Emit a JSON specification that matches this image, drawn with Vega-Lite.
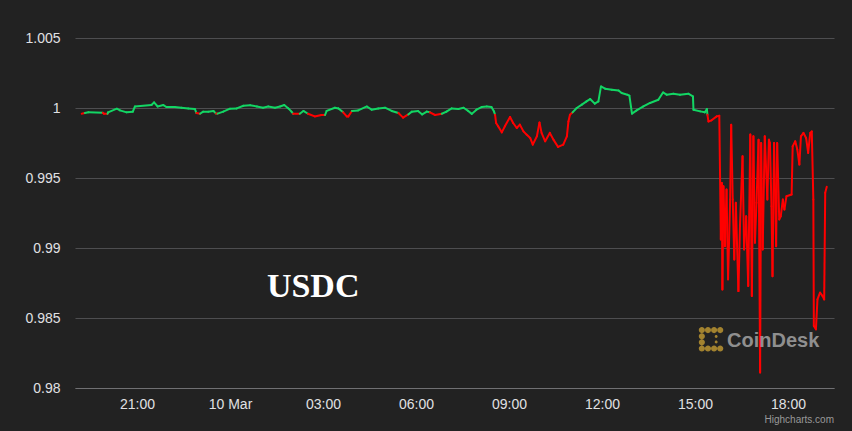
{
  "$schema": "https://vega.github.io/schema/vega-lite/v6.json",
  "autosize": {"type": "none"},
  "padding": {"left": 75, "top": 38, "right": 18, "bottom": 43},
  "width": 759,
  "height": 350,
  "background": "#222222",
  "config": {
    "view": {"stroke": null},
    "font": "Liberation Sans"
  },
  "datasets": {
    "usdc": [
      {"t": "2023-03-09T19:13:00Z", "v": 0.99959},
      {"t": "2023-03-09T19:19:00Z", "v": 0.99964},
      {"t": "2023-03-09T19:26:00Z", "v": 0.99969},
      {"t": "2023-03-09T19:54:00Z", "v": 0.99966},
      {"t": "2023-03-09T19:56:00Z", "v": 0.99959},
      {"t": "2023-03-09T20:03:00Z", "v": 0.99959},
      {"t": "2023-03-09T20:04:00Z", "v": 0.99969},
      {"t": "2023-03-09T20:21:00Z", "v": 0.99995},
      {"t": "2023-03-09T20:27:00Z", "v": 0.99983},
      {"t": "2023-03-09T20:40:00Z", "v": 0.99969},
      {"t": "2023-03-09T20:52:00Z", "v": 0.99974},
      {"t": "2023-03-09T20:56:00Z", "v": 1.00011},
      {"t": "2023-03-09T21:28:00Z", "v": 1.00021},
      {"t": "2023-03-09T21:33:00Z", "v": 1.0004},
      {"t": "2023-03-09T21:40:00Z", "v": 1.00011},
      {"t": "2023-03-09T21:51:00Z", "v": 1.00021},
      {"t": "2023-03-09T21:57:00Z", "v": 1.00007},
      {"t": "2023-03-09T22:13:00Z", "v": 1.00007},
      {"t": "2023-03-09T22:26:00Z", "v": 1.00002},
      {"t": "2023-03-09T22:39:00Z", "v": 0.99997},
      {"t": "2023-03-09T22:52:00Z", "v": 0.99993},
      {"t": "2023-03-09T22:55:00Z", "v": 0.99964},
      {"t": "2023-03-09T23:02:00Z", "v": 0.99959},
      {"t": "2023-03-09T23:08:00Z", "v": 0.99974},
      {"t": "2023-03-09T23:18:00Z", "v": 0.99974},
      {"t": "2023-03-09T23:28:00Z", "v": 0.99979},
      {"t": "2023-03-09T23:33:00Z", "v": 0.9996},
      {"t": "2023-03-09T23:36:00Z", "v": 0.9996},
      {"t": "2023-03-09T23:47:00Z", "v": 0.99974},
      {"t": "2023-03-10T00:00:00Z", "v": 0.99995},
      {"t": "2023-03-10T00:13:00Z", "v": 0.99997},
      {"t": "2023-03-10T00:26:00Z", "v": 1.00016},
      {"t": "2023-03-10T00:39:00Z", "v": 1.00019},
      {"t": "2023-03-10T00:52:00Z", "v": 1.00011},
      {"t": "2023-03-10T01:04:00Z", "v": 1.00002},
      {"t": "2023-03-10T01:14:00Z", "v": 1.00011},
      {"t": "2023-03-10T01:27:00Z", "v": 1.00002},
      {"t": "2023-03-10T01:37:00Z", "v": 1.00011},
      {"t": "2023-03-10T01:45:00Z", "v": 1.00021},
      {"t": "2023-03-10T01:53:00Z", "v": 0.99997},
      {"t": "2023-03-10T01:59:00Z", "v": 0.99974},
      {"t": "2023-03-10T02:02:00Z", "v": 0.99959},
      {"t": "2023-03-10T02:15:00Z", "v": 0.99959},
      {"t": "2023-03-10T02:22:00Z", "v": 0.99979},
      {"t": "2023-03-10T02:31:00Z", "v": 0.99959},
      {"t": "2023-03-10T02:44:00Z", "v": 0.9994},
      {"t": "2023-03-10T02:57:00Z", "v": 0.9995},
      {"t": "2023-03-10T03:04:00Z", "v": 0.9995},
      {"t": "2023-03-10T03:07:00Z", "v": 0.99979},
      {"t": "2023-03-10T03:23:00Z", "v": 1.00002},
      {"t": "2023-03-10T03:30:00Z", "v": 0.99997},
      {"t": "2023-03-10T03:39:00Z", "v": 0.99969},
      {"t": "2023-03-10T03:46:00Z", "v": 0.9994},
      {"t": "2023-03-10T03:49:00Z", "v": 0.9994},
      {"t": "2023-03-10T03:56:00Z", "v": 0.99979},
      {"t": "2023-03-10T04:08:00Z", "v": 0.99983},
      {"t": "2023-03-10T04:25:00Z", "v": 1.00011},
      {"t": "2023-03-10T04:34:00Z", "v": 0.99988},
      {"t": "2023-03-10T04:47:00Z", "v": 0.99997},
      {"t": "2023-03-10T05:00:00Z", "v": 1.00002},
      {"t": "2023-03-10T05:13:00Z", "v": 0.99979},
      {"t": "2023-03-10T05:26:00Z", "v": 0.99964},
      {"t": "2023-03-10T05:35:00Z", "v": 0.99931},
      {"t": "2023-03-10T05:45:00Z", "v": 0.99954},
      {"t": "2023-03-10T05:52:00Z", "v": 0.99974},
      {"t": "2023-03-10T06:04:00Z", "v": 0.99979},
      {"t": "2023-03-10T06:12:00Z", "v": 0.99954},
      {"t": "2023-03-10T06:21:00Z", "v": 0.99974},
      {"t": "2023-03-10T06:27:00Z", "v": 0.99969},
      {"t": "2023-03-10T06:37:00Z", "v": 0.9995},
      {"t": "2023-03-10T06:50:00Z", "v": 0.99959},
      {"t": "2023-03-10T06:59:00Z", "v": 0.99974},
      {"t": "2023-03-10T07:09:00Z", "v": 0.99997},
      {"t": "2023-03-10T07:22:00Z", "v": 0.99993},
      {"t": "2023-03-10T07:32:00Z", "v": 1.00002},
      {"t": "2023-03-10T07:41:00Z", "v": 0.99979},
      {"t": "2023-03-10T07:48:00Z", "v": 0.99958},
      {"t": "2023-03-10T07:57:00Z", "v": 0.99988},
      {"t": "2023-03-10T08:07:00Z", "v": 1.00007},
      {"t": "2023-03-10T08:17:00Z", "v": 1.00011},
      {"t": "2023-03-10T08:26:00Z", "v": 1.00007},
      {"t": "2023-03-10T08:31:00Z", "v": 0.99975},
      {"t": "2023-03-10T08:33:00Z", "v": 0.99952},
      {"t": "2023-03-10T08:35:00Z", "v": 0.99893},
      {"t": "2023-03-10T08:39:00Z", "v": 0.99869},
      {"t": "2023-03-10T08:46:00Z", "v": 0.99826},
      {"t": "2023-03-10T08:52:00Z", "v": 0.99869},
      {"t": "2023-03-10T09:02:00Z", "v": 0.99936},
      {"t": "2023-03-10T09:08:00Z", "v": 0.99893},
      {"t": "2023-03-10T09:15:00Z", "v": 0.99857},
      {"t": "2023-03-10T09:21:00Z", "v": 0.99881},
      {"t": "2023-03-10T09:28:00Z", "v": 0.99833},
      {"t": "2023-03-10T09:34:00Z", "v": 0.9981},
      {"t": "2023-03-10T09:41:00Z", "v": 0.99786},
      {"t": "2023-03-10T09:46:00Z", "v": 0.99738},
      {"t": "2023-03-10T09:54:00Z", "v": 0.99798},
      {"t": "2023-03-10T09:59:00Z", "v": 0.99897},
      {"t": "2023-03-10T10:03:00Z", "v": 0.99822},
      {"t": "2023-03-10T10:10:00Z", "v": 0.99762},
      {"t": "2023-03-10T10:19:00Z", "v": 0.99822},
      {"t": "2023-03-10T10:26:00Z", "v": 0.99774},
      {"t": "2023-03-10T10:35:00Z", "v": 0.99722},
      {"t": "2023-03-10T10:45:00Z", "v": 0.99738},
      {"t": "2023-03-10T10:52:00Z", "v": 0.99798},
      {"t": "2023-03-10T10:55:00Z", "v": 0.99904},
      {"t": "2023-03-10T10:58:00Z", "v": 0.99952},
      {"t": "2023-03-10T11:03:00Z", "v": 0.99969},
      {"t": "2023-03-10T11:11:00Z", "v": 1.0},
      {"t": "2023-03-10T11:21:00Z", "v": 1.00024},
      {"t": "2023-03-10T11:30:00Z", "v": 1.00047},
      {"t": "2023-03-10T11:37:00Z", "v": 1.00064},
      {"t": "2023-03-10T11:46:00Z", "v": 1.00031},
      {"t": "2023-03-10T11:53:00Z", "v": 1.00047},
      {"t": "2023-03-10T11:58:00Z", "v": 1.00154},
      {"t": "2023-03-10T12:06:00Z", "v": 1.00138},
      {"t": "2023-03-10T12:19:00Z", "v": 1.0013},
      {"t": "2023-03-10T12:32:00Z", "v": 1.00125},
      {"t": "2023-03-10T12:38:00Z", "v": 1.00107},
      {"t": "2023-03-10T12:49:00Z", "v": 1.00095},
      {"t": "2023-03-10T12:53:00Z", "v": 1.00088},
      {"t": "2023-03-10T12:58:00Z", "v": 0.9996},
      {"t": "2023-03-10T13:07:00Z", "v": 0.99983},
      {"t": "2023-03-10T13:20:00Z", "v": 1.00011},
      {"t": "2023-03-10T13:33:00Z", "v": 1.00036},
      {"t": "2023-03-10T13:49:00Z", "v": 1.00059},
      {"t": "2023-03-10T13:58:00Z", "v": 1.00111},
      {"t": "2023-03-10T14:05:00Z", "v": 1.00095},
      {"t": "2023-03-10T14:18:00Z", "v": 1.00102},
      {"t": "2023-03-10T14:31:00Z", "v": 1.00095},
      {"t": "2023-03-10T14:47:00Z", "v": 1.00102},
      {"t": "2023-03-10T14:56:00Z", "v": 1.00083},
      {"t": "2023-03-10T14:57:00Z", "v": 0.99988},
      {"t": "2023-03-10T15:10:00Z", "v": 0.99976},
      {"t": "2023-03-10T15:19:00Z", "v": 0.99969},
      {"t": "2023-03-10T15:23:00Z", "v": 0.99993},
      {"t": "2023-03-10T15:24:00Z", "v": 0.99952},
      {"t": "2023-03-10T15:26:00Z", "v": 0.99904},
      {"t": "2023-03-10T15:32:00Z", "v": 0.99912},
      {"t": "2023-03-10T15:42:00Z", "v": 0.9994},
      {"t": "2023-03-10T15:47:00Z", "v": 0.99945},
      {"t": "2023-03-10T15:50:00Z", "v": 0.99061},
      {"t": "2023-03-10T15:52:00Z", "v": 0.99465},
      {"t": "2023-03-10T15:53:00Z", "v": 0.98704},
      {"t": "2023-03-10T15:55:00Z", "v": 0.99441},
      {"t": "2023-03-10T15:58:00Z", "v": 0.99013},
      {"t": "2023-03-10T16:01:00Z", "v": 0.99417},
      {"t": "2023-03-10T16:04:00Z", "v": 0.98776},
      {"t": "2023-03-10T16:08:00Z", "v": 0.99346},
      {"t": "2023-03-10T16:10:00Z", "v": 0.99881},
      {"t": "2023-03-10T16:13:00Z", "v": 0.99346},
      {"t": "2023-03-10T16:16:00Z", "v": 0.98918},
      {"t": "2023-03-10T16:19:00Z", "v": 0.99323},
      {"t": "2023-03-10T16:24:00Z", "v": 0.98692},
      {"t": "2023-03-10T16:27:00Z", "v": 0.99156},
      {"t": "2023-03-10T16:32:00Z", "v": 0.99655},
      {"t": "2023-03-10T16:35:00Z", "v": 0.9899},
      {"t": "2023-03-10T16:39:00Z", "v": 0.99227},
      {"t": "2023-03-10T16:43:00Z", "v": 0.98728},
      {"t": "2023-03-10T16:47:00Z", "v": 0.9981},
      {"t": "2023-03-10T16:50:00Z", "v": 0.98657},
      {"t": "2023-03-10T16:53:00Z", "v": 0.99798},
      {"t": "2023-03-10T16:56:00Z", "v": 0.99037},
      {"t": "2023-03-10T16:59:00Z", "v": 0.99323},
      {"t": "2023-03-10T17:03:00Z", "v": 0.99774},
      {"t": "2023-03-10T17:06:00Z", "v": 0.98111},
      {"t": "2023-03-10T17:08:00Z", "v": 0.9975},
      {"t": "2023-03-10T17:11:00Z", "v": 0.9899},
      {"t": "2023-03-10T17:15:00Z", "v": 0.99798},
      {"t": "2023-03-10T17:20:00Z", "v": 0.99346},
      {"t": "2023-03-10T17:23:00Z", "v": 0.99774},
      {"t": "2023-03-10T17:25:00Z", "v": 0.9975},
      {"t": "2023-03-10T17:28:00Z", "v": 0.99298},
      {"t": "2023-03-10T17:30:00Z", "v": 0.98799},
      {"t": "2023-03-10T17:33:00Z", "v": 0.9975},
      {"t": "2023-03-10T17:37:00Z", "v": 0.99013},
      {"t": "2023-03-10T17:39:00Z", "v": 0.9975},
      {"t": "2023-03-10T17:43:00Z", "v": 0.99204},
      {"t": "2023-03-10T17:46:00Z", "v": 0.99227},
      {"t": "2023-03-10T17:50:00Z", "v": 0.99346},
      {"t": "2023-03-10T17:53:00Z", "v": 0.99275},
      {"t": "2023-03-10T17:57:00Z", "v": 0.9937},
      {"t": "2023-03-10T18:07:00Z", "v": 0.99382},
      {"t": "2023-03-10T18:09:00Z", "v": 0.99726},
      {"t": "2023-03-10T18:14:00Z", "v": 0.99762},
      {"t": "2023-03-10T18:18:00Z", "v": 0.99703},
      {"t": "2023-03-10T18:22:00Z", "v": 0.99596},
      {"t": "2023-03-10T18:25:00Z", "v": 0.99798},
      {"t": "2023-03-10T18:30:00Z", "v": 0.99822},
      {"t": "2023-03-10T18:35:00Z", "v": 0.99786},
      {"t": "2023-03-10T18:39:00Z", "v": 0.99679},
      {"t": "2023-03-10T18:43:00Z", "v": 0.99822},
      {"t": "2023-03-10T18:46:00Z", "v": 0.99833},
      {"t": "2023-03-10T18:49:00Z", "v": 0.99346},
      {"t": "2023-03-10T18:50:00Z", "v": 0.98443},
      {"t": "2023-03-10T18:54:00Z", "v": 0.98419},
      {"t": "2023-03-10T18:57:00Z", "v": 0.98633},
      {"t": "2023-03-10T19:02:00Z", "v": 0.98681},
      {"t": "2023-03-10T19:07:00Z", "v": 0.98657},
      {"t": "2023-03-10T19:10:00Z", "v": 0.98633},
      {"t": "2023-03-10T19:12:00Z", "v": 0.99394},
      {"t": "2023-03-10T19:15:00Z", "v": 0.99437}
    ]
  },
  "layer": [
    {
      "data": {"name": "usdc", "format": {"parse": {"t": "date"}}},
      "transform": [
        {"window": [{"op": "lead", "field": "t", "as": "t2"}, {"op": "lead", "field": "v", "as": "v2"}], "sort": [{"field": "t", "order": "ascending"}]},
        {"filter": "datum.t2 != null"}
      ],
      "mark": {"type": "rule", "strokeWidth": 2, "strokeCap": "round"},
      "encoding": {
        "x": {
          "field": "t",
          "type": "temporal",
          "scale": {
            "type": "utc",
            "domain": [
              {"year": 2023, "month": 3, "date": 9, "hours": 19, "minutes": 0, "utc": true},
              {"year": 2023, "month": 3, "date": 10, "hours": 19, "minutes": 29, "utc": true}
            ]
          },
          "axis": {
            "title": null,
            "values": [
              {"year": 2023, "month": 3, "date": 9, "hours": 21, "utc": true},
              {"year": 2023, "month": 3, "date": 10, "hours": 0, "utc": true},
              {"year": 2023, "month": 3, "date": 10, "hours": 3, "utc": true},
              {"year": 2023, "month": 3, "date": 10, "hours": 6, "utc": true},
              {"year": 2023, "month": 3, "date": 10, "hours": 9, "utc": true},
              {"year": 2023, "month": 3, "date": 10, "hours": 12, "utc": true},
              {"year": 2023, "month": 3, "date": 10, "hours": 15, "utc": true},
              {"year": 2023, "month": 3, "date": 10, "hours": 18, "utc": true}
            ],
            "labelExpr": "utchours(datum.value) == 0 ? utcFormat(datum.value, '%-d %b') : utcFormat(datum.value, '%H:%M')",
            "grid": false,
            "ticks": false,
            "domainColor": "#707073",
            "labelColor": "#e0e0e3",
            "labelFontSize": 14,
            "labelPadding": 9,
            "labelFlush": false
          }
        },
        "x2": {"field": "t2"},
        "y": {
          "field": "v",
          "type": "quantitative",
          "scale": {"domain": [0.98, 1.005], "zero": false, "nice": false},
          "axis": {
            "title": null,
            "values": [0.98, 0.985, 0.99, 0.995, 1, 1.005],
            "format": "~g",
            "domain": false,
            "ticks": false,
            "gridColor": "#4e4e50",
            "gridWidth": 1,
            "labelColor": "#e0e0e3",
            "labelFontSize": 14,
            "labelPadding": 15
          }
        },
        "y2": {"field": "v2"},
        "color": {
          "condition": {"test": "(datum.v + datum.v2) / 2 >= 0.99963", "value": "#13d664"},
          "value": "#ff0000"
        }
      }
    },
    {
      "data": {"values": [{}]},
      "mark": {"type": "text", "text": "USDC", "font": "Liberation Serif", "fontWeight": "bold", "fontSize": 34, "color": "#ffffff", "align": "center", "baseline": "alphabetic"},
      "encoding": {
        "x": {"datum": {"year": 2023, "month": 3, "date": 10, "hours": 2, "minutes": 41, "utc": true}, "type": "temporal"},
        "y": {"datum": 0.9865}
      }
    },
    {
      "data": {"values": [{}]},
      "mark": {"type": "point", "filled": true, "color": "#a2822f", "opacity": 1, "size": 600,
        "shape": "M-1,-0.75a0.25,0.25 0 1,0 0.5,0a0.25,0.25 0 1,0 -0.5,0M-0.5,-0.75a0.25,0.25 0 1,0 0.5,0a0.25,0.25 0 1,0 -0.5,0M0,-0.75a0.25,0.25 0 1,0 0.5,0a0.25,0.25 0 1,0 -0.5,0M0.5,-0.75a0.25,0.25 0 1,0 0.5,0a0.25,0.25 0 1,0 -0.5,0M-1,-0.25a0.25,0.25 0 1,0 0.5,0a0.25,0.25 0 1,0 -0.5,0M-1,0.25a0.25,0.25 0 1,0 0.5,0a0.25,0.25 0 1,0 -0.5,0M-1,0.75a0.25,0.25 0 1,0 0.5,0a0.25,0.25 0 1,0 -0.5,0M-0.5,0.75a0.25,0.25 0 1,0 0.5,0a0.25,0.25 0 1,0 -0.5,0M0,0.75a0.25,0.25 0 1,0 0.5,0a0.25,0.25 0 1,0 -0.5,0M0.5,0.75a0.25,0.25 0 1,0 0.5,0a0.25,0.25 0 1,0 -0.5,0M0.3,-0.22a0.12,0.12 0 1,0 0.24,0a0.12,0.12 0 1,0 -0.24,0M0.3,0.22a0.12,0.12 0 1,0 0.24,0a0.12,0.12 0 1,0 -0.24,0"},
      "encoding": {
        "x": {"datum": {"year": 2023, "month": 3, "date": 10, "hours": 15, "minutes": 31, "utc": true}, "type": "temporal"},
        "y": {"datum": 0.98348}
      }
    },
    {
      "data": {"values": [{}]},
      "mark": {"type": "text", "text": "CoinDesk", "font": "Liberation Sans", "fontWeight": "bold", "fontSize": 20, "color": "#8f8f8f", "align": "left", "baseline": "middle"},
      "encoding": {
        "x": {"datum": {"year": 2023, "month": 3, "date": 10, "hours": 16, "minutes": 2, "utc": true}, "type": "temporal"},
        "y": {"datum": 0.98334}
      }
    },
    {
      "data": {"values": [{}]},
      "mark": {"type": "text", "text": "Highcharts.com", "font": "Liberation Sans", "fontSize": 10, "color": "#999999", "align": "right", "baseline": "middle", "dy": 32},
      "encoding": {
        "x": {"datum": {"year": 2023, "month": 3, "date": 10, "hours": 19, "minutes": 29, "utc": true}, "type": "temporal"},
        "y": {"datum": 0.98}
      }
    }
  ]
}
